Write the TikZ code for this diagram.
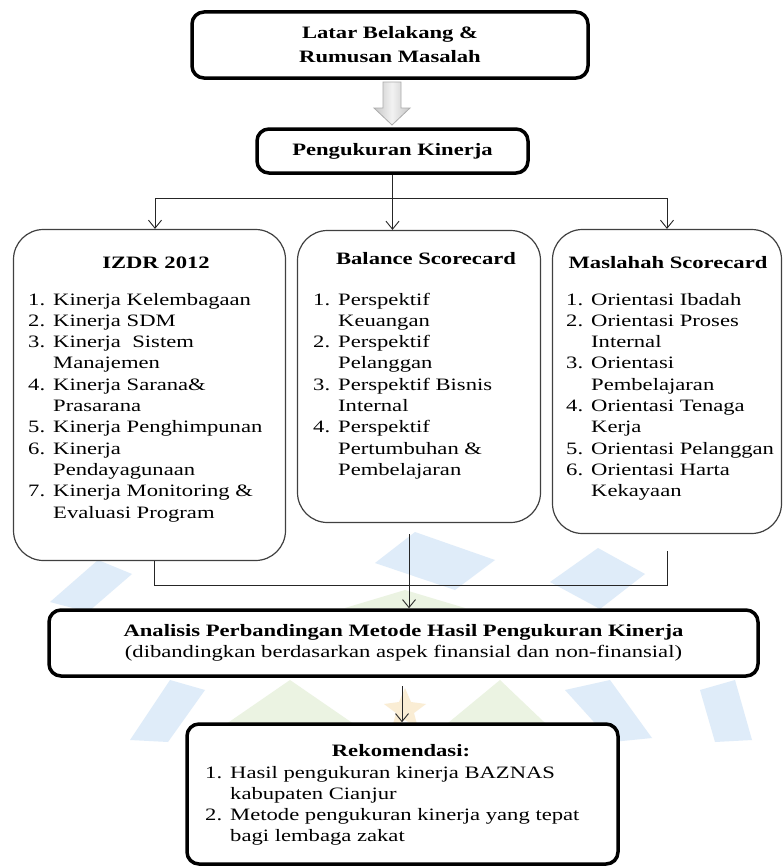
\documentclass[tikz,border=0pt]{standalone}
\usepackage{fontspec}
\setmainfont{Liberation Serif}[FakeStretch=1.3]
\usetikzlibrary{arrows.meta,shadows}
\newcommand\fs{\fontsize{17.4}{21.3}\selectfont}
\newcommand\itm[1]{\makebox[25pt][l]{#1}}
\definecolor{wmblue}{RGB}{223,236,249}
\definecolor{wmgreen}{RGB}{235,243,226}
\definecolor{wmorange}{RGB}{250,237,212}
\tikzset{
  thickbox/.style={draw=black, line width=3.5pt, rounded corners=12pt, fill=white, inner sep=0pt,
    drop shadow={shadow xshift=1.2pt, shadow yshift=-1.8pt, opacity=0.25}},
  methbox/.style={draw=black!75, line width=1.2pt, rounded corners=30pt, fill=white, inner sep=0pt},
  conn/.style={draw=black!85, line width=0.9pt},
  arr/.style={conn, -{Straight Barb[length=8pt,width=13pt,line width=0.9pt]}},
  ttl/.style={anchor=base, font=\fs\bfseries, inner sep=0pt},
  lst/.style={anchor=base west, inner sep=0pt, font=\fs},
}
\begin{document}
\begin{tikzpicture}[x=1pt, y=-1pt, font=\fs]
\fill[white] (0,0) rectangle (783,867);
\useasboundingbox (0,0) rectangle (783,867);

% faint watermark logo
\fill[wmblue] (375,563) -- (415,532) -- (495,560) -- (455,590) -- cycle;
\fill[wmblue] (50,602) -- (98,560) -- (132,574) -- (88,612) -- cycle;
\fill[wmblue] (550,582) -- (598,548) -- (645,574) -- (600,609) -- cycle;
\fill[wmblue] (130,740) -- (170,680) -- (205,690) -- (168,742) -- cycle;
\fill[wmblue] (565,690) -- (610,680) -- (652,738) -- (612,742) -- cycle;
\fill[wmblue] (700,690) -- (735,680) -- (752,740) -- (715,742) -- cycle;
\fill[wmgreen] (200,742) -- (290,680) -- (380,742) -- cycle;
\fill[wmgreen] (425,742) -- (500,680) -- (565,742) -- cycle;
\fill[wmgreen] (345,608) -- (405,590) -- (465,608) -- cycle;
\fill[wmorange] (405,688) -- (411,702) -- (426,704) -- (414,713) -- (418,728) -- (405,720) -- (392,728) -- (396,713) -- (384,704) -- (399,702) -- cycle;

% top boxes
\node[thickbox, minimum width=396pt, minimum height=66pt, align=center, font=\fs\bfseries] (lb) at (390,45) {Latar Belakang \&\\[2.7pt]Rumusan Masalah};
\node[thickbox, minimum width=271pt, minimum height=44pt, font=\fs\bfseries] (pk) at (392.5,151) {Pengukuran Kinerja};

% block arrow
\path[left color=gray!45, right color=gray!45, middle color=gray!10, draw=gray!65, line width=0.8pt]
  (383,82) -- (401,82) -- (401,108) -- (410,108) -- (392,125) -- (374,108) -- (383,108) -- cycle;

% method boxes
\node[methbox, minimum width=272pt, minimum height=331pt] (izdr) at (149.5,395) {};
\node[methbox, minimum width=243pt, minimum height=292pt] (bsc) at (419,376.5) {};
\node[methbox, minimum width=229pt, minimum height=304pt] (msc) at (667,381.5) {};

\node[ttl] (izdrt) at (156,268) {IZDR 2012};
\node[ttl] (bsct) at (426,264) {Balance Scorecard};
\node[ttl] (msct) at (668,268) {Maslahah Scorecard};

\node[lst] (izdrl) at (28,305) {\begin{tabular}[t]{@{}l@{}}
\itm{1.}Kinerja Kelembagaan\\
\itm{2.}Kinerja SDM\\
\itm{3.}Kinerja\ \ Sistem\\
\itm{}Manajemen\\
\itm{4.}Kinerja Sarana\&\\
\itm{}Prasarana\\
\itm{5.}Kinerja Penghimpunan\\
\itm{6.}Kinerja\\
\itm{}Pendayagunaan\\
\itm{7.}Kinerja Monitoring \&\\
\itm{}Evaluasi Program
\end{tabular}};

\node[lst] (bscl) at (313,305) {\begin{tabular}[t]{@{}l@{}}
\itm{1.}Perspektif\\
\itm{}Keuangan\\
\itm{2.}Perspektif\\
\itm{}Pelanggan\\
\itm{3.}Perspektif Bisnis\\
\itm{}Internal\\
\itm{4.}Perspektif\\
\itm{}Pertumbuhan \&\\
\itm{}Pembelajaran
\end{tabular}};

\node[lst] (mscl) at (566,305) {\begin{tabular}[t]{@{}l@{}}
\itm{1.}Orientasi Ibadah\\
\itm{2.}Orientasi Proses\\
\itm{}Internal\\
\itm{3.}Orientasi\\
\itm{}Pembelajaran\\
\itm{4.}Orientasi Tenaga\\
\itm{}Kerja\\
\itm{5.}Orientasi Pelanggan\\
\itm{6.}Orientasi Harta\\
\itm{}Kekayaan
\end{tabular}};

% analysis box
\node[thickbox, minimum width=709pt, minimum height=66pt, align=center] (ana) at (403.5,643)
  {\textbf{Analisis Perbandingan Metode Hasil Pengukuran Kinerja}\\(dibandingkan berdasarkan aspek finansial dan non-finansial)};

% recommendation box
\node[thickbox, minimum width=431pt, minimum height=140pt] (rek) at (402.5,794) {};
\node[ttl] (rekt) at (401,756) {Rekomendasi:};
\node[lst] (rekl) at (205,778) {\begin{tabular}[t]{@{}l@{}}
\itm{1.}Hasil pengukuran kinerja BAZNAS\\
\itm{}kabupaten Cianjur\\
\itm{2.}Metode pengukuran kinerja yang tepat\\
\itm{}bagi lembaga zakat
\end{tabular}};

% connectors top
\coordinate (sp) at (pk.south |- 0,198);
\coordinate (jl) at (155,198);
\coordinate (jr) at (667,198);
\draw[conn] (pk.south) -- (sp);
\draw[conn] (jl) -- (jr);
\draw[arr] (jl) -- (jl |- izdr.north);
\draw[arr] (sp) -- (sp |- bsc.north);
\draw[arr] (jr) -- (jr |- msc.north);

% connectors bottom
\coordinate (bl) at (154,585);
\coordinate (br) at (667,585);
\coordinate (rt) at (667,551);
\coordinate (mt) at (409,534);
\draw[conn] (bl |- izdr.south) -- (bl) -- (br) -- (rt);
\draw[arr] (mt) -- (mt |- ana.north);
\coordinate (at) at (402,686);
\draw[arr] (at) -- (at |- rek.north);
\end{tikzpicture}
\end{document}
